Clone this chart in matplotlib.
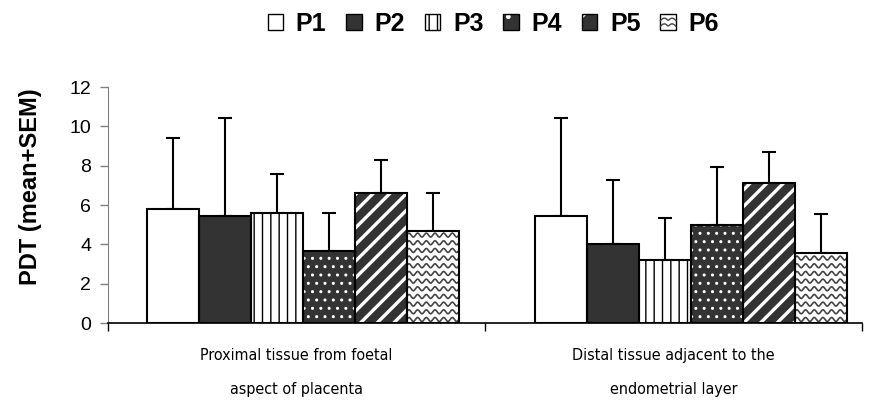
import matplotlib
matplotlib.use("Agg")
import matplotlib.pyplot as plt
import numpy as np
from matplotlib.legend_handler import HandlerBase, HandlerTuple
from matplotlib.patches import Rectangle
from matplotlib.lines import Line2D
from matplotlib import font_manager

plt.rcParams["font.family"] = ["Liberation Sans", "DejaVu Sans"]

categories = ["Proximal tissue from foetal\naspect of placenta",
              "Distal tissue adjacent to the\nendometrial layer"]
series = ["P1", "P2", "P3", "P4", "P5", "P6"]
# mean PDT per series, one entry per tissue region
means = {
    "P1": [5.8, 5.44],
    "P2": [5.44, 4.03],
    "P3": [5.61, 3.19],
    "P4": [3.66, 4.97],
    "P5": [6.62, 7.10],
    "P6": [4.69, 3.57],
}
sems = {
    "P1": [3.60, 5.00],
    "P2": [5.00, 3.26],
    "P3": [1.95, 2.16],
    "P4": [1.95, 2.96],
    "P5": [1.67, 1.59],
    "P6": [1.93, 1.95],
}

DARK = "#333333"
# face colour, hatch, hatch colour, hatch line width
STYLES = {
    "P1": ("white", None, "black", 1.0),
    "P2": (DARK, None, "black", 1.0),
    "P3": ("white", "||", "black", 1.0),
    "P4": (DARK, "..", "white", 1.0),
    "P5": (DARK, "//", "white", 2.4),
    "P6": ("white", None, "black", 1.0),
}

names = {f.name for f in font_manager.fontManager.ttflist}
narrow = [n for n in ("Liberation Sans Narrow", "DejaVu Sans") if n in names]

fig = plt.figure(figsize=(8.81, 4.19), dpi=100)
ax = fig.add_axes([108 / 881, 1 - 323 / 419, 754 / 881, 236 / 419])

width = 0.1378
centers = [0.517, 1.546]


def wave_fill(ax, x0, x1, y1, color="#444444"):
    """Wavy horizontal lines inside the rectangle x0..x1, 0..y1."""
    xs = np.linspace(x0, x1, 200)
    clip = Rectangle((x0, 0), x1 - x0, y1, transform=ax.transData)
    yy = 0.18
    while yy < y1 + 0.2:
        ln, = ax.plot(xs, yy + 0.1 * np.sin(2 * np.pi * (xs - x0) / 0.023),
                      color=color, lw=1.2, zorder=2.5)
        ln.set_clip_path(clip)
        yy += 0.39


for i, s in enumerate(series):
    face, hatch, hcol, hlw = STYLES[s]
    xs = [c + (i - 2.5) * width for c in centers]
    with plt.rc_context({"hatch.linewidth": hlw}):
        ax.bar(xs, means[s], width=width, color=face, hatch=hatch,
               edgecolor=hcol, linewidth=0, zorder=2)
    ax.bar(xs, means[s], width=width, facecolor="none", edgecolor="black",
           linewidth=1.5, zorder=3)
    ax.errorbar(xs, means[s], yerr=[np.zeros(2), sems[s]], fmt="none",
                ecolor="black", elinewidth=1.5, capsize=5, capthick=1.5,
                zorder=1)
    if s == "P6":
        for x, m in zip(xs, means[s]):
            wave_fill(ax, x - width / 2, x + width / 2, m)

ax.set_xlim(0, 2)
ax.set_ylim(0, 12)
ax.set_yticks(range(0, 13, 2))
ax.set_xticks([0, 1, 2])
ax.set_xticklabels([])
ax.tick_params(axis="x", direction="out", length=6, width=1, color="black")
ax.tick_params(axis="y", direction="out", length=6, width=1, color="#808080",
               labelsize=14, pad=6)
for side in ("top", "right"):
    ax.spines[side].set_visible(False)
ax.spines["left"].set_color("#808080")
ax.spines["bottom"].set_color("black")
ax.spines["bottom"].set_linewidth(1.2)

for c, lab in zip([0.5, 1.5], categories):
    top, bottom = lab.split("\n")
    for y, txt in ((-1.65, top), (-3.4, bottom)):
        ax.text(c, y, txt, ha="center", va="center", fontsize=11.5,
                family=narrow, fontstretch="condensed")

ax.set_ylabel("PDT (mean+SEM)", fontsize=17, fontweight="bold")
ax.yaxis.set_label_coords(-0.088, 0.576)


class WaveHandler(HandlerBase):
    def create_artists(self, legend, orig_handle, xd, yd, w, h, fontsize, trans):
        box = Rectangle((-xd, -yd), w, h, facecolor="white", edgecolor="black",
                        lw=1, transform=trans)
        arts = [box]
        xs = np.linspace(-xd, -xd + w, 20)
        for k in (0.25, 0.6):
            arts.append(Line2D(xs, -yd + k * h + 0.15 * h *
                               np.abs(np.sin(np.pi * (xs + xd) / (w / 2))),
                               color="#444444", lw=1.0, transform=trans))
        return arts


handles = []
for s in series:
    face, hatch, hcol, hlw = STYLES[s]
    outline = Rectangle((0, 0), 1, 1, facecolor="none", edgecolor="black", lw=1)
    if s == "P6":
        handles.append(Rectangle((0, 0), 1, 1))
    else:
        fill = Rectangle((0, 0), 1, 1, facecolor=face,
                         hatch=hatch.replace("..", ".").replace("//", "/")
                         if hatch else None, edgecolor=hcol, lw=0)
        handles.append((fill, outline))
fig.legend(handles, series, loc="upper center", bbox_to_anchor=(0.56, 1.025),
           ncol=6, frameon=False, prop={"weight": "bold", "size": 18},
           handlelength=0.62, handleheight=0.62, handletextpad=0.5,
           columnspacing=0.8,
           handler_map={handles[-1]: WaveHandler(),
                        tuple: HandlerTuple(ndivide=1, pad=0)})

fig.savefig("out.png", dpi=100)
